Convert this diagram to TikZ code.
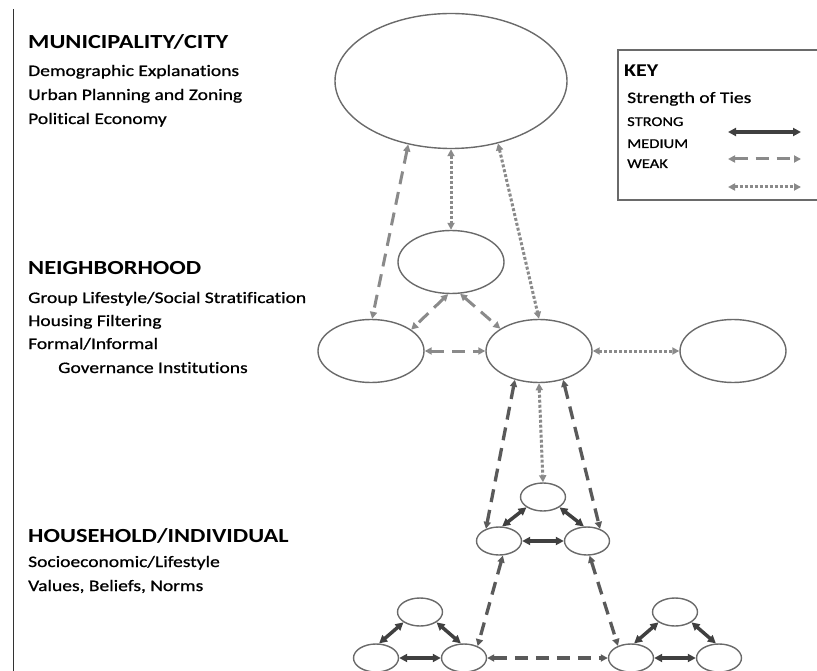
\documentclass[tikz,border=0pt]{standalone}
\usepackage{fontspec}
\setmainfont{Carlito}[FakeStretch=1.22,Ligatures=NoCommon]
\newfontfamily\bodyfont{Carlito}[FakeStretch=1.22,FakeBold=0.8,Ligatures=NoCommon]
\usetikzlibrary{shapes.geometric,arrows.meta}
\definecolor{strongc}{HTML}{404040}
\definecolor{medc}{HTML}{8A8A8A}
\definecolor{darkc}{HTML}{5A5A5A}
\definecolor{weakc}{HTML}{8A8A8A}
\definecolor{ellc}{HTML}{6A6A6A}
\definecolor{keyc}{HTML}{6A6A6A}
\begin{document}
\begin{tikzpicture}[x=1pt,y=-1pt,
 ell/.style={ellipse,draw=ellc,line width=1.4pt,inner sep=0pt},
 bigell/.style={ell,minimum width=232pt,minimum height=135pt},
 midell/.style={ell,minimum width=106pt,minimum height=63pt},
 smell/.style={ell,minimum width=45pt,minimum height=28pt},
 tipS/.style={{Triangle[length=8pt,width=8pt]}-{Triangle[length=8pt,width=8pt]}},
 tipM/.style={{Triangle[length=7pt,width=7pt]}-{Triangle[length=7pt,width=7pt]}},
 strongtie/.style={draw=strongc,line width=3.5pt,tipS},
 medtie/.style={draw=medc,line width=3pt,dash pattern=on 13pt off 8pt,tipM},
 darktie/.style={draw=darkc,line width=3.3pt,dash pattern=on 13pt off 8pt,tipM},
 weaktie/.style={draw=weakc,line width=3pt,dash pattern=on 3pt off 2pt,tipM},
 head/.style={anchor=base west,inner sep=0pt,font=\fontsize{20}{24}\selectfont\bfseries},
 body/.style={anchor=base west,inner sep=0pt,font=\fontsize{16}{19}\selectfont\bodyfont},
 keyhead/.style={anchor=base west,inner sep=0pt,font=\fontsize{18}{21}\selectfont\bfseries},
 keysmall/.style={anchor=base west,inner sep=0pt,font=\fontsize{13.5}{16}\selectfont\bodyfont},
]
\useasboundingbox (0,0) rectangle (817,671);
% left rule
\draw[line width=1pt,black!80] (13,9) -- (13,671);
% left texts
\node[head] (h1) at (28,49) {MUNICIPALITY/CITY};
\node[body] (t11) at (28,76) {Demographic Explanations};
\node[body] (t12) at (28,100) {Urban Planning and Zoning};
\node[body] (t13) at (28,124) {Political Economy};
\node[head] (h2) at (28,275) {NEIGHBORHOOD};
\node[body] (t21) at (28,303) {Group Lifestyle/Social Stratification};
\node[body] (t22) at (28,326) {Housing Filtering};
\node[body] (t23) at (28,349) {Formal/Informal};
\node[body] (t24) at (58,373) {Governance Institutions};
\node[head] (h3) at (28,542) {HOUSEHOLD/INDIVIDUAL};
\node[body] (t31) at (28,567) {Socioeconomic/Lifestyle};
\node[body] (t32) at (28,591) {Values, Beliefs, Norms};
% key
\draw[draw=keyc,line width=2pt] (618,50) rectangle (822,200);
\node[keyhead] (keyt) at (624,77) {KEY};
\node[body] (k0) at (627,103) {Strength of Ties};
\node[keysmall] (k1) at (627,126) {STRONG};
\node[keysmall] (k2) at (627,148) {MEDIUM};
\node[keysmall] (k3) at (627,168) {WEAK};
\coordinate (ka1) at (728,132); \coordinate (kb1) at (801,132);
\coordinate (ka2) at (728,159); \coordinate (kb2) at (801,159);
\coordinate (ka3) at (728,187); \coordinate (kb3) at (801,187);
\draw[strongtie] (ka1) -- (kb1);
\draw[medtie] (ka2) -- (kb2);
\draw[weaktie] (ka3) -- (kb3);
% ellipses
\node[bigell] (city) at (451,81) {};
\node[midell] (ntop) at (451,262) {};
\node[midell] (nleft) at (371,351) {};
\node[midell] (nmid) at (539,351) {};
\node[midell] (nright) at (733,351) {};
\node[smell] (htop) at (543,497) {};
\node[smell] (hbl) at (499,541) {};
\node[smell] (hbr) at (587,541) {};
\node[smell] (ltop) at (420,612) {};
\node[smell] (lbl) at (376,658) {};
\node[smell] (lbr) at (464,658) {};
\node[smell] (rtop) at (675,612) {};
\node[smell] (rbl) at (631,658) {};
\node[smell] (rbr) at (719,658) {};
% city level ties
\draw[medtie] (city.236) -- (nleft.88);
\draw[weaktie] (city.270) -- (ntop.90);
\draw[weaktie] (city.307) -- (nmid.90);
% neighborhood ties
\draw[medtie] (ntop.265) -- (nleft.28);
\draw[medtie] (ntop.286) -- (nmid.150);
\draw[medtie] (nleft) -- (nmid);
\draw[weaktie] (nmid) -- (nright);
% neighborhood to households
\draw[weaktie] (nmid.270) -- (htop.90);
\draw[darktie] (nmid.230) -- (hbl.137);
\draw[darktie] (nmid.310) -- (hbr.43);
% household triangle
\draw[strongtie] (htop.212) -- (hbl.78);
\draw[strongtie] (htop.328) -- (hbr.102);
\draw[strongtie] (hbl) -- (hbr);
% lower households
\draw[darktie] (hbl.285) -- (lbr.41);
\draw[darktie] (hbr.280) -- (rbl.137);
\draw[darktie] (lbr) -- (rbl);
\draw[strongtie] (ltop.212) -- (lbl.78);
\draw[strongtie] (ltop.328) -- (lbr.102);
\draw[strongtie] (lbl) -- (lbr);
\draw[strongtie] (rtop.212) -- (rbl.78);
\draw[strongtie] (rtop.328) -- (rbr.102);
\draw[strongtie] (rbl) -- (rbr);
\end{tikzpicture}
\end{document}
